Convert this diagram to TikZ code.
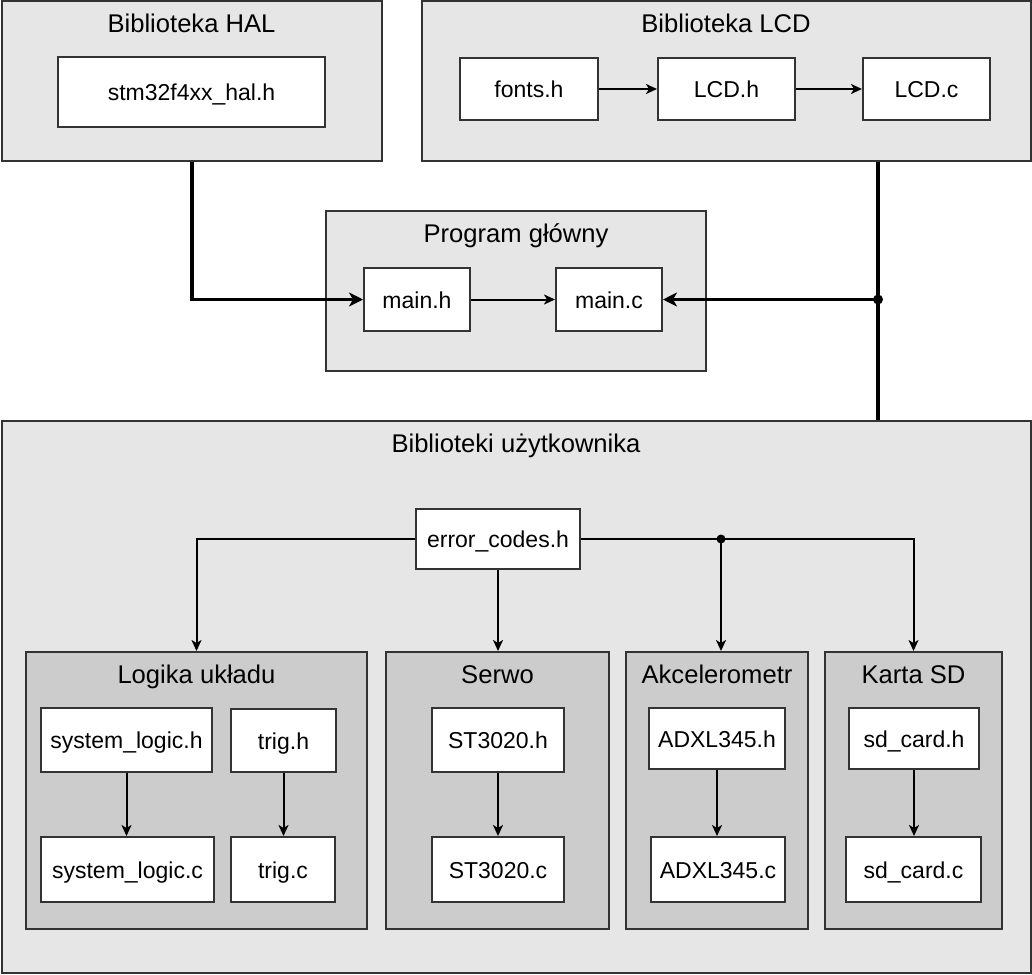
\documentclass[tikz,border=0pt]{standalone}
\usepackage{fontspec}
\setmainfont{Liberation Sans}
\usetikzlibrary{arrows.meta,calc}
\definecolor{outerfill}{HTML}{E6E6E6}
\definecolor{innerfill}{HTML}{CCCCCC}
\definecolor{edge}{HTML}{333333}
\tikzset{
  outerbox/.style={draw=edge, line width=2pt, fill=outerfill, inner sep=0pt},
  innerbox/.style={draw=edge, line width=2pt, fill=innerfill, inner sep=0pt},
  filebox/.style={draw=edge, line width=2pt, fill=white, inner sep=0pt,
    font=\fontsize{23}{27}\selectfont, text height=17pt, text depth=0pt},
  titletext/.style={anchor=base, inner sep=0pt, font=\fontsize{25.6}{30}\selectfont},
  thinarr/.style={draw=black, line width=2pt, -{Stealth[length=11pt,width=10pt,inset=3pt]}},
  thickline/.style={draw=black, line width=3.5pt},
  thickarr/.style={draw=black, line width=3.5pt, -{Stealth[length=14pt,width=14pt,inset=4pt]}},
  plainline/.style={draw=black, line width=2pt},
}
\newcommand{\bx}[7]{\node[#6, minimum width={(#4-#2)*1pt}, minimum height={(#5-#3)*1pt}] (#1) at ({(#2+#4)/2},{(#3+#5)/2}) {#7};}
\begin{document}
\begin{tikzpicture}[x=1pt,y=-1pt]
\useasboundingbox[fill=white] (0,0) rectangle (1032,974);
% Biblioteka HAL
\bx{hal}{1.5}{1.5}{382}{161}{outerbox}{}
\node[titletext] (haltitle) at (191.5,32.5) {Biblioteka HAL};
\bx{stm}{58}{57}{325}{127}{filebox}{stm32f4xx\_hal.h}
% Biblioteka LCD
\bx{lcd}{422}{1.5}{1030.5}{161}{outerbox}{}
\node[titletext] (lcdtitle) at (726,32.5) {Biblioteka LCD};
\bx{fonts}{460}{58}{598}{120}{filebox}{fonts.h}
\bx{lcdh}{658}{58}{795}{120}{filebox}{LCD.h}
\bx{lcdc}{863}{58}{990}{120}{filebox}{LCD.c}
% Program glowny
\bx{prog}{326}{211}{706}{371}{outerbox}{}
\node[titletext] (progtitle) at (516,242.5) {Program główny};
\bx{mainh}{364}{268}{470}{331}{filebox}{main.h}
\bx{mainc}{556}{268}{662}{331}{filebox}{main.c}
% Biblioteki uzytkownika
\bx{user}{1.5}{421}{1030.5}{972.5}{outerbox}{}
\node[titletext] (usertitle) at (516,452.5) {Biblioteki użytkownika};
\bx{err}{416}{509}{580}{569}{filebox}{error\_codes.h}
% Logika
\bx{logic}{26}{652}{367}{929}{innerbox}{}
\node[titletext] (logictitle) at (196.5,683) {Logika układu};
\bx{slh}{41}{708}{212}{772}{filebox}{system\_logic.h}
\bx{trh}{231}{709}{336}{772}{filebox}{trig.h}
\bx{slc}{41}{837}{214}{902}{filebox}{system\_logic.c}
\bx{trc}{231}{837}{335}{902}{filebox}{trig.c}
% Serwo
\bx{serwo}{386}{652}{609}{929}{innerbox}{}
\node[titletext] (serwotitle) at (497.5,683) {Serwo};
\bx{sth}{432}{708}{564}{772}{filebox}{ST3020.h}
\bx{stc}{432}{837}{564}{902}{filebox}{ST3020.c}
% Akcelerometr
\bx{akc}{626}{652}{808}{929}{innerbox}{}
\node[titletext] (akctitle) at (717,683) {Akcelerometr};
\bx{adh}{649}{708}{785}{769}{filebox}{ADXL345.h}
\bx{adc}{651}{837}{785}{902}{filebox}{ADXL345.c}
% Karta SD
\bx{sd}{825}{652}{1002}{929}{innerbox}{}
\node[titletext] (sdtitle) at (913.5,683) {Karta SD};
\bx{sdh}{849}{708}{979}{769}{filebox}{sd\_card.h}
\bx{sdc}{846}{837}{981}{902}{filebox}{sd\_card.c}
% connectors top
\draw[thinarr] (fonts) -- (lcdh);
\draw[thinarr] (lcdh) -- (lcdc);
\draw[thinarr] (mainh) -- (mainc);
\draw[thickarr] (hal.south) |- (mainh.west);
\coordinate (j1) at (878,299.5);
\draw[thickline] (lcd.south -| j1) -- (user.north -| j1);
\draw[thickarr] (j1) -- (mainc.east);
\fill (j1) circle (5pt);
% connectors user
\draw[thinarr] (err.west) -| (logic.north);
\draw[thinarr] (err.south) -- (err.south |- serwo.north);
\draw[thinarr] (err.east) -| (sd.north);
\coordinate (j2) at (721,539);
\draw[thinarr] (j2) -- (j2 |- akc.north);
\fill (j2) circle (4.5pt);
\draw[thinarr] (slh.south) -- (slh.south |- slc.north);
\draw[thinarr] (trh.south) -- (trh.south |- trc.north);
\draw[thinarr] (sth.south) -- (sth.south |- stc.north);
\draw[thinarr] (adh.south) -- (adh.south |- adc.north);
\draw[thinarr] (sdh.south) -- (sdh.south |- sdc.north);
\end{tikzpicture}
\end{document}
